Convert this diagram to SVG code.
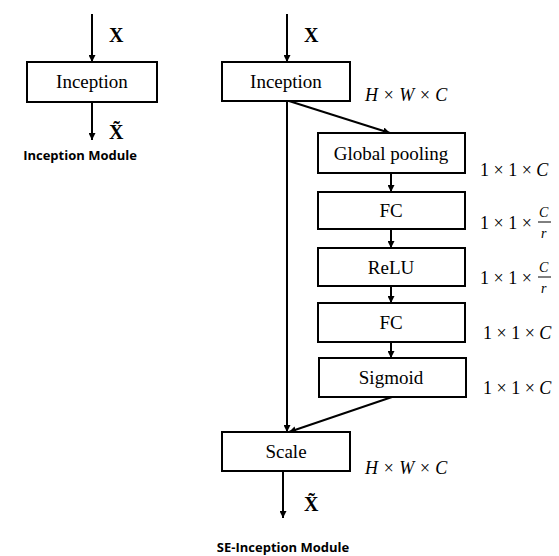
<svg xmlns="http://www.w3.org/2000/svg" width="559" height="556" viewBox="0 0 559 556">
  <defs>
    <marker id="arr" viewBox="0 0 10 10" refX="10" refY="5" markerWidth="7" markerHeight="7" markerUnits="userSpaceOnUse" orient="auto">
      <path d="M0,0 L10,5 L0,10 z" fill="#000"/>
    </marker>
    <style>
      .box { fill: #fff; stroke: #000; stroke-width: 2; }
      .lbl { font-family: "Liberation Serif", "DejaVu Serif", serif; font-size: 19px; text-anchor: middle; fill: #000; }
      .var { font-family: "Liberation Serif", "DejaVu Serif", serif; font-size: 20px; font-weight: bold; fill: #000; }
      .dim { font-family: "Liberation Serif", "DejaVu Serif", serif; font-size: 18px; fill: #000; }
      .it { font-style: italic; }
      .frac { font-family: "Liberation Serif", "DejaVu Serif", serif; font-size: 14px; font-style: italic; fill: #000; }
      .ttl { font-family: "Open Sans", "Liberation Sans", sans-serif; font-size: 13px; font-weight: bold; text-anchor: middle; fill: #000; }
      .edge { stroke: #000; stroke-width: 2; fill: none; }
    </style>
  </defs>
  <rect width="559" height="556" fill="#fff"/>

  <!-- connectors -->
  <g id="connectors">
    <!-- plain Inception module -->
    <line class="edge" x1="92" y1="14" x2="92" y2="62" marker-end="url(#arr)"/>
    <line class="edge" x1="92" y1="102" x2="92" y2="140" marker-end="url(#arr)"/>
    <!-- SE-Inception module -->
    <line class="edge" x1="287" y1="14" x2="287" y2="62" marker-end="url(#arr)"/>
    <line class="edge" x1="287" y1="101" x2="287" y2="432" marker-end="url(#arr)"/>
    <line class="edge" x1="289" y1="101" x2="390" y2="133" marker-end="url(#arr)"/>
    <line class="edge" x1="391" y1="173" x2="391" y2="192" marker-end="url(#arr)"/>
    <line class="edge" x1="391" y1="229" x2="391" y2="248" marker-end="url(#arr)"/>
    <line class="edge" x1="391" y1="286" x2="391" y2="303" marker-end="url(#arr)"/>
    <line class="edge" x1="391" y1="342" x2="391" y2="358" marker-end="url(#arr)"/>
    <line class="edge" x1="392" y1="397" x2="289" y2="432" marker-end="url(#arr)"/>
    <line class="edge" x1="283" y1="471" x2="283" y2="518" marker-end="url(#arr)"/>
  </g>

  <!-- plain Inception module -->
  <g id="inception-a">
    <rect class="box" x="27" y="62" width="130" height="40"/>
    <text class="lbl" x="92" y="88">Inception</text>
  </g>
  <text class="var" x="109" y="42">X</text>
  <text class="var" x="109" y="139">X̃</text>
  <text class="ttl" x="80" y="160">Inception Module</text>

  <!-- SE-Inception module -->
  <g id="inception-b">
    <rect class="box" x="222" y="62" width="128" height="39"/>
    <text class="lbl" x="286" y="88">Inception</text>
  </g>
  <text class="var" x="304" y="42">X</text>
  <text class="dim it" x="365" y="101">H × W × C</text>

  <g id="global-pooling">
    <rect class="box" x="318" y="133" width="147" height="40"/>
    <text class="lbl" x="391" y="160">Global pooling</text>
  </g>
  <text class="dim" x="480" y="176">1 × 1 × <tspan class="it">C</tspan></text>

  <g id="fc1">
    <rect class="box" x="318" y="192" width="147" height="37"/>
    <text class="lbl" x="391" y="217">FC</text>
  </g>
  <text class="dim" x="480" y="229">1 × 1 ×</text>
  <text class="frac" x="539" y="217">C</text>
  <line x1="538" y1="222" x2="551" y2="222" stroke="#000" stroke-width="1"/>
  <text class="frac" x="541" y="238">r</text>

  <g id="relu">
    <rect class="box" x="318" y="248" width="147" height="38"/>
    <text class="lbl" x="391" y="274">ReLU</text>
  </g>
  <text class="dim" x="480" y="284">1 × 1 ×</text>
  <text class="frac" x="539" y="272">C</text>
  <line x1="538" y1="277" x2="551" y2="277" stroke="#000" stroke-width="1"/>
  <text class="frac" x="541" y="293">r</text>

  <g id="fc2">
    <rect class="box" x="318" y="303" width="147" height="39"/>
    <text class="lbl" x="391" y="329">FC</text>
  </g>
  <text class="dim" x="483" y="339">1 × 1 × <tspan class="it">C</tspan></text>

  <g id="sigmoid">
    <rect class="box" x="319" y="358" width="147" height="39"/>
    <text class="lbl" x="391" y="384">Sigmoid</text>
  </g>
  <text class="dim" x="483" y="394">1 × 1 × <tspan class="it">C</tspan></text>

  <g id="scale">
    <rect class="box" x="222" y="432" width="128" height="39"/>
    <text class="lbl" x="286" y="458">Scale</text>
  </g>
  <text class="dim it" x="365" y="474">H × W × C</text>
  <text class="var" x="304" y="511">X̃</text>
  <text class="ttl" x="283" y="552">SE-Inception Module</text>
</svg>
